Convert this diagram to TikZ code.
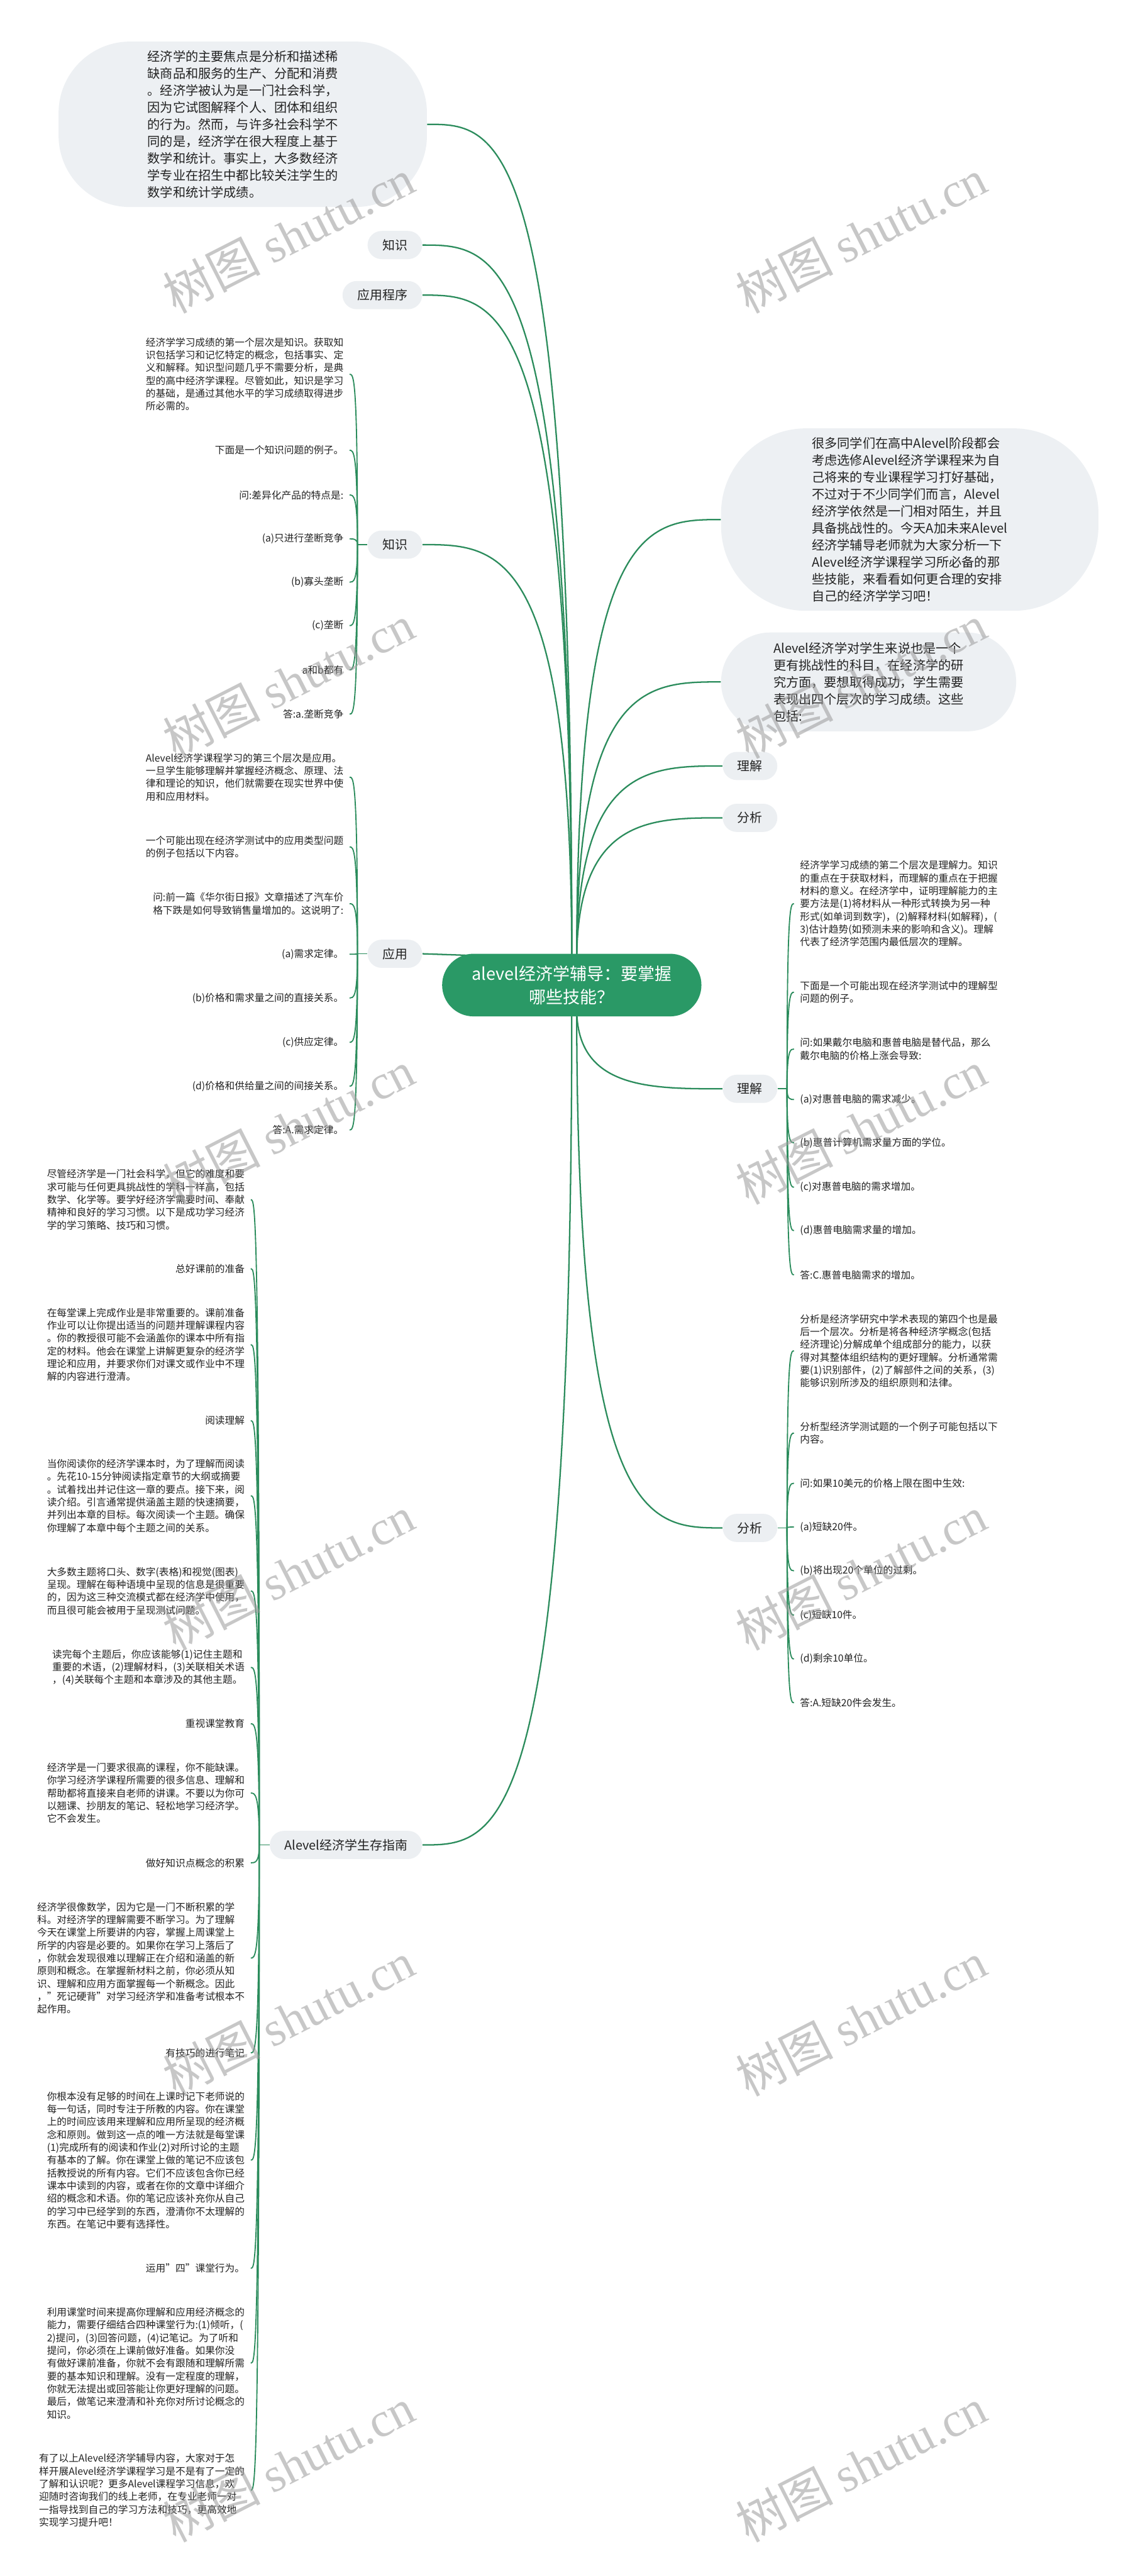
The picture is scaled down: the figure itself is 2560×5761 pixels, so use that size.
\documentclass[tikz,border=0pt]{standalone}
\usepackage{fontspec}
\setmainfont{Noto Sans CJK SC}
\newfontfamily\wmfont{Liberation Serif}
\usetikzlibrary{calc,backgrounds}
\definecolor{lineG}{HTML}{2B8C5C}
\definecolor{ctrG}{HTML}{2A9966}
\definecolor{pillC}{HTML}{ECEFF2}
\definecolor{bubC}{HTML}{EDF0F3}
\definecolor{wmC}{HTML}{9A9A9A}
\definecolor{txtC}{HTML}{222222}
\newcommand\childfont{\fontsize{6.29pt}{8.14pt}\selectfont}
\newcommand\pillfont{\fontsize{7.97pt}{9pt}\selectfont}
\newcommand\bubfont{\fontsize{8.08pt}{10.81pt}\selectfont}
\newcommand\ctrfont{\fontsize{10.8pt}{14.8pt}\selectfont}
\newcommand\wmsize{\fontsize{31pt}{31pt}\selectfont}
\newcommand\mmconn[3]{\draw[#1] (#2) .. controls (#2 |- #3) and ($(#2 |- #3)!0.5!(#3)$) .. (#3);}
\tikzset{
  conn/.style={draw=lineG, line width=0.32mm},
  sub/.style={draw=lineG, line width=0.26mm},
  pill/.style={fill=pillC, rounded corners=3.15mm, minimum height=6.3mm, inner xsep=3.3mm, inner ysep=0pt, font=\pillfont, text=txtC},
  ctext/.style={font=\childfont, align=left, inner sep=0pt, text=txtC},
  bubble/.style={fill=bubC, font=\bubfont, align=left, inner sep=0pt, text=txtC},
  wm/.style={text=wmC, text opacity=0.55, font=\wmsize, inner sep=0pt}
}
\begin{document}
\begin{tikzpicture}[x=0.1mm, y=-0.1mm]
\useasboundingbox (0,0) rectangle (2560,5761);

% ---------- centre ----------
\node[fill=ctrG, text=white, font=\ctrfont, align=center, rounded corners=7mm, minimum width=58mm, minimum height=14mm, inner sep=0pt] (ctr) at (1279,2203) {alevel经济学辅导：要掌握\\哪些技能？};

% ---------- top-level left ----------
\node[bubble, rounded corners=16mm, minimum width=82.4mm, minimum height=37mm] (tlb) at (543,278) {经济学的主要焦点是分析和描述稀\\缺商品和服务的生产、分配和消费\\。经济学被认为是一门社会科学，\\因为它试图解释个人、团体和组织\\的行为。然而，与许多社会科学不\\同的是，经济学在很大程度上基于\\数学和统计。事实上，大多数经济\\学专业在招生中都比较关注学生的\\数学和统计学成绩。};
\node[pill, anchor=east] (zsA) at (945,548) {知识};
\node[pill, anchor=east] (yycx) at (945,660) {应用程序};
\node[pill, anchor=east] (zs) at (945,1218) {知识};
\node[pill, anchor=east] (yy) at (945,2133) {应用};
\node[pill, anchor=east] (zn) at (945,4126) {Alevel经济学生存指南};

% ---------- top-level right ----------
\node[bubble, rounded corners=19mm, minimum width=84.4mm, minimum height=40.8mm] (rb1) at (2035,1162) {很多同学们在高中Alevel阶段都会\\考虑选修Alevel经济学课程来为自\\己将来的专业课程学习打好基础，\\不过对于不少同学们而言，Alevel\\经济学依然是一门相对陌生，并且\\具备挑战性的。今天A加未来Alevel\\经济学辅导老师就为大家分析一下\\Alevel经济学课程学习所必备的那\\些技能，来看看如何更合理的安排\\自己的经济学学习吧！};
\node[bubble, rounded corners=11mm, minimum width=66mm, minimum height=22.1mm] (rb2) at (1943,1525) {Alevel经济学对学生来说也是一个\\更有挑战性的科目，在经济学的研\\究方面，要想取得成功，学生需要\\表现出四个层次的学习成绩。这些\\包括:};
\node[pill, anchor=west] (ljA) at (1616,1713) {理解};
\node[pill, anchor=west] (fxA) at (1616,1829) {分析};
\node[pill, anchor=west] (lj) at (1616,2435) {理解};
\node[pill, anchor=west] (fx) at (1616,3417) {分析};

% ---------- 知识 children ----------
\node[ctext, anchor=east] (zs1) at (769,837) {经济学学习成绩的第一个层次是知识。获取知\\识包括学习和记忆特定的概念，包括事实、定\\义和解释。知识型问题几乎不需要分析，是典\\型的高中经济学课程。尽管如此，知识是学习\\的基础，是通过其他水平的学习成绩取得进步\\所必需的。};
\node[ctext, anchor=east] (zs2) at (769,1007) {下面是一个知识问题的例子。};
\node[ctext, anchor=east] (zs3) at (769,1107) {问:差异化产品的特点是:};
\node[ctext, anchor=east] (zs4) at (769,1205) {(a)只进行垄断竞争};
\node[ctext, anchor=east] (zs5) at (769,1302) {(b)寡头垄断};
\node[ctext, anchor=east] (zs6) at (769,1399) {(c)垄断};
\node[ctext, anchor=east] (zs7) at (769,1498) {a和b都有};
\node[ctext, anchor=east] (zs8) at (769,1597) {答:a.垄断竞争};

% ---------- 应用 children ----------
\node[ctext, anchor=east] (yy1) at (769,1738) {Alevel经济学课程学习的第三个层次是应用。\\一旦学生能够理解并掌握经济概念、原理、法\\律和理论的知识，他们就需要在现实世界中使\\用和应用材料。};
\node[ctext, anchor=east] (yy2) at (769,1894) {一个可能出现在经济学测试中的应用类型问题\\的例子包括以下内容。};
\node[ctext, anchor=east] (yy3) at (769,2021) {问:前一篇《华尔街日报》文章描述了汽车价\\格下跌是如何导致销售量增加的。这说明了:};
\node[ctext, anchor=east] (yy4) at (769,2134) {(a)需求定律。};
\node[ctext, anchor=east] (yy5) at (769,2232) {(b)价格和需求量之间的直接关系。};
\node[ctext, anchor=east] (yy6) at (769,2331) {(c)供应定律。};
\node[ctext, anchor=east] (yy7) at (769,2429) {(d)价格和供给量之间的间接关系。};
\node[ctext, anchor=east] (yy8) at (769,2527) {答:A.需求定律。};

% ---------- 理解 children ----------
\node[ctext, anchor=west] (lj1) at (1789,2021) {经济学学习成绩的第二个层次是理解力。知识\\的重点在于获取材料，而理解的重点在于把握\\材料的意义。在经济学中，证明理解能力的主\\要方法是(1)将材料从一种形式转换为另一种\\形式(如单词到数字)，(2)解释材料(如解释)，(\\3)估计趋势(如预测未来的影响和含义)。理解\\代表了经济学范围内最低层次的理解。};
\node[ctext, anchor=west] (lj2) at (1789,2219) {下面是一个可能出现在经济学测试中的理解型\\问题的例子。};
\node[ctext, anchor=west] (lj3) at (1789,2346) {问:如果戴尔电脑和惠普电脑是替代品，那么\\戴尔电脑的价格上涨会导致:};
\node[ctext, anchor=west] (lj4) at (1789,2459) {(a)对惠普电脑的需求减少。};
\node[ctext, anchor=west] (lj5) at (1789,2556) {(b)惠普计算机需求量方面的学位。};
\node[ctext, anchor=west] (lj6) at (1789,2655) {(c)对惠普电脑的需求增加。};
\node[ctext, anchor=west] (lj7) at (1789,2752) {(d)惠普电脑需求量的增加。};
\node[ctext, anchor=west] (lj8) at (1789,2851) {答:C.惠普电脑需求的增加。};

% ---------- 分析 children ----------
\node[ctext, anchor=west] (fx1) at (1789,3021) {分析是经济学研究中学术表现的第四个也是最\\后一个层次。分析是将各种经济学概念(包括\\经济理论)分解成单个组成部分的能力，以获\\得对其整体组织结构的更好理解。分析通常需\\要(1)识别部件，(2)了解部件之间的关系，(3)\\能够识别所涉及的组织原则和法律。};
\node[ctext, anchor=west] (fx2) at (1789,3205) {分析型经济学测试题的一个例子可能包括以下\\内容。};
\node[ctext, anchor=west] (fx3) at (1789,3317) {问:如果10美元的价格上限在图中生效:};
\node[ctext, anchor=west] (fx4) at (1789,3415) {(a)短缺20件。};
\node[ctext, anchor=west] (fx5) at (1789,3513) {(b)将出现20个单位的过剩。};
\node[ctext, anchor=west] (fx6) at (1789,3612) {(c)短缺10件。};
\node[ctext, anchor=west] (fx7) at (1789,3710) {(d)剩余10单位。};
\node[ctext, anchor=west] (fx8) at (1789,3808) {答:A.短缺20件会发生。};

% ---------- 生存指南 children ----------
\node[ctext, anchor=east] (zn1) at (548,2683) {尽管经济学是一门社会科学，但它的难度和要\\求可能与任何更具挑战性的学科一样高，包括\\数学、化学等。要学好经济学需要时间、奉献\\精神和良好的学习习惯。以下是成功学习经济\\学的学习策略、技巧和习惯。};
\node[ctext, anchor=east] (zn2) at (548,2837) {总好课前的准备};
\node[ctext, anchor=east] (zn3) at (548,3007) {在每堂课上完成作业是非常重要的。课前准备\\作业可以让你提出适当的问题并理解课程内容\\。你的教授很可能不会涵盖你的课本中所有指\\定的材料。他会在课堂上讲解更复杂的经济学\\理论和应用，并要求你们对课文或作业中不理\\解的内容进行澄清。};
\node[ctext, anchor=east] (zn4) at (548,3177) {阅读理解};
\node[ctext, anchor=east] (zn5) at (548,3345) {当你阅读你的经济学课本时，为了理解而阅读\\。先花10-15分钟阅读指定章节的大纲或摘要\\。试着找出并记住这一章的要点。接下来，阅\\读介绍。引言通常提供涵盖主题的快速摘要，\\并列出本章的目标。每次阅读一个主题。确保\\你理解了本章中每个主题之间的关系。};
\node[ctext, anchor=east] (zn6) at (548,3558) {大多数主题将口头、数字(表格)和视觉(图表)\\呈现。理解在每种语境中呈现的信息是很重要\\的，因为这三种交流模式都在经济学中使用，\\而且很可能会被用于呈现测试问题。};
\node[ctext, anchor=east] (zn7) at (548,3729) {读完每个主题后，你应该能够(1)记住主题和\\重要的术语，(2)理解材料，(3)关联相关术语\\，(4)关联每个主题和本章涉及的其他主题。};
\node[ctext, anchor=east] (zn8) at (548,3855) {重视课堂教育};
\node[ctext, anchor=east] (zn9) at (548,4010) {经济学是一门要求很高的课程，你不能缺课。\\你学习经济学课程所需要的很多信息、理解和\\帮助都将直接来自老师的讲课。不要以为你可\\以翘课、抄朋友的笔记、轻松地学习经济学。\\它不会发生。};
\node[ctext, anchor=east] (zn10) at (548,4166) {做好知识点概念的积累};
\node[ctext, anchor=east] (zn11) at (548,4379) {经济学很像数学，因为它是一门不断积累的学\\科。对经济学的理解需要不断学习。为了理解\\今天在课堂上所要讲的内容，掌握上周课堂上\\所学的内容是必要的。如果你在学习上落后了\\，你就会发现很难以理解正在介绍和涵盖的新\\原则和概念。在掌握新材料之前，你必须从知\\识、理解和应用方面掌握每一个新概念。因此\\，"死记硬背"对学习经济学和准备考试根本不\\起作用。};
\node[ctext, anchor=east] (zn12) at (548,4591) {有技巧的进行笔记};
\node[ctext, anchor=east] (zn13) at (548,4831) {你根本没有足够的时间在上课时记下老师说的\\每一句话，同时专注于所教的内容。你在课堂\\上的时间应该用来理解和应用所呈现的经济概\\念和原则。做到这一点的唯一方法就是每堂课\\(1)完成所有的阅读和作业(2)对所讨论的主题\\有基本的了解。你在课堂上做的笔记不应该包\\括教授说的所有内容。它们不应该包含你已经\\课本中读到的内容，或者在你的文章中详细介\\绍的概念和术语。你的笔记应该补充你从自己\\的学习中已经学到的东西，澄清你不太理解的\\东西。在笔记中要有选择性。};
\node[ctext, anchor=east] (zn14) at (548,5073) {运用"四"课堂行为。};
\node[ctext, anchor=east] (zn15) at (548,5285) {利用课堂时间来提高你理解和应用经济概念的\\能力，需要仔细结合四种课堂行为:(1)倾听，(\\2)提问，(3)回答问题，(4)记笔记。为了听和\\提问，你必须在上课前做好准备。如果你没\\有做好课前准备，你就不会有跟随和理解所需\\要的基本知识和理解。没有一定程度的理解，\\你就无法提出或回答能让你更好理解的问题。\\最后，做笔记来澄清和补充你对所讨论概念的\\知识。};
\node[ctext, anchor=east] (zn16) at (548,5569) {有了以上Alevel经济学辅导内容，大家对于怎\\样开展Alevel经济学课程学习是不是有了一定的\\了解和认识呢？更多Alevel课程学习信息，欢\\迎随时咨询我们的线上老师，在专业老师一对\\一指导找到自己的学习方法和技巧，更高效地\\实现学习提升吧！};

% ---------- connectors ----------
\begin{scope}[on background layer]
\fill[white] (0,0) rectangle (2560,5761);
\coordinate (sTL) at (1279,2150);
\coordinate (sTR) at (1290,2150);
\coordinate (sBL) at (1279,2256);
\coordinate (sBR) at (1290,2256);
\coordinate (ctrL) at (1062,2137);
\mmconn{conn}{sTL}{tlb.east}
\mmconn{conn}{sTL}{zsA.east}
\mmconn{conn}{sTL}{yycx.east}
\mmconn{conn}{sTL}{zs.east}
\mmconn{conn}{sBL}{zn.east}
\draw[conn] (yy.east) -- (ctrL);
\mmconn{conn}{sTR}{rb1.west}
\mmconn{conn}{sTR}{rb2.west}
\mmconn{conn}{sTR}{ljA.west}
\mmconn{conn}{sTR}{fxA.west}
\mmconn{conn}{sBR}{lj.west}
\mmconn{conn}{sBR}{fx.west}
% junctions
\coordinate (zsJ) at ([xshift=-2.2mm]zs.west);
\coordinate (yyJ) at ([xshift=-2.2mm]yy.west);
\coordinate (znJ) at ([xshift=-2.3mm]zn.west);
\coordinate (ljJ) at ([xshift=2.1mm]lj.east);
\coordinate (fxJ) at ([xshift=2.1mm]fx.east);
\draw[sub] (zs.west) -- (zsJ);
\draw[sub] (yy.west) -- (yyJ);
\draw[sub] (zn.west) -- (znJ);
\draw[sub] (lj.east) -- (ljJ);
\draw[sub] (fx.east) -- (fxJ);
\foreach \i in {1,...,8}{
  \coordinate (ezs\i) at ([xshift=1.3mm]zs\i.east);
  \mmconn{sub}{zsJ}{ezs\i}
  \coordinate (eyy\i) at ([xshift=1.3mm]yy\i.east);
  \mmconn{sub}{yyJ}{eyy\i}
  \coordinate (elj\i) at ([xshift=-1.3mm]lj\i.west);
  \mmconn{sub}{ljJ}{elj\i}
  \coordinate (efx\i) at ([xshift=-1.3mm]fx\i.west);
  \mmconn{sub}{fxJ}{efx\i}
}
\foreach \i in {1,...,16}{
  \coordinate (ezn\i) at ([xshift=1.3mm]zn\i.east);
  \mmconn{sub}{znJ}{ezn\i}
}
\end{scope}

% ---------- watermarks ----------
\foreach \yy in {527,1524,2521,3518,4515,5512}{
  \node[wm, rotate=27] (wmL\yy) at (646,\yy) {树图 {\wmfont shutu.cn}};
  \node[wm, rotate=27] (wmR\yy) at (1926,\yy) {树图 {\wmfont shutu.cn}};
}
\end{tikzpicture}
\end{document}
